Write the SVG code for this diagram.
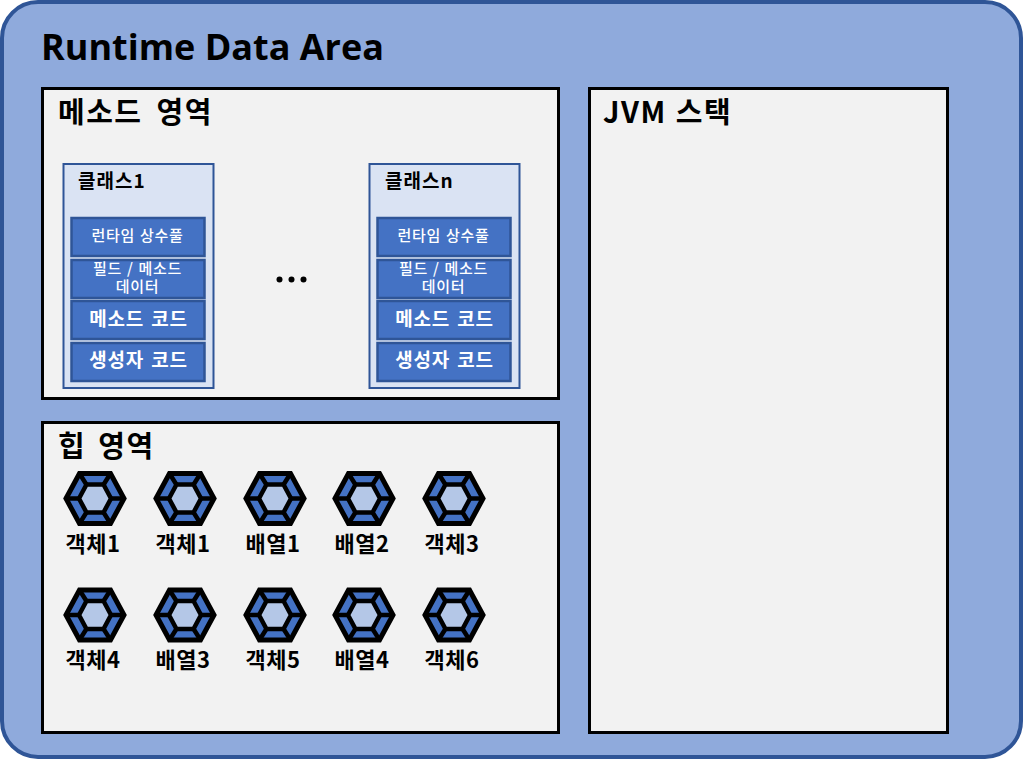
<svg xmlns="http://www.w3.org/2000/svg" width="1023" height="759" viewBox="0 0 1023 759">
<style>
text{font-family:"Noto Sans CJK KR","Noto Sans",sans-serif;font-weight:700;fill:#000}
.panel{fill:#f2f2f2;stroke:#000;stroke-width:3}
.cls{fill:#dae3f3;stroke:#2f5597;stroke-width:2}
.box{fill:#4472c4;stroke:#2f5597;stroke-width:2.500}
.w{fill:#fff;text-anchor:middle}
.s{font-size:15px;font-weight:500;letter-spacing:.7px;word-spacing:1px}
.m{font-size:19px;letter-spacing:.8px;word-spacing:2px}
.h2{font-size:29px;letter-spacing:1.500px;word-spacing:6px}
.c{font-size:19px;letter-spacing:1px}
.lab{font-size:22px;letter-spacing:.5px;text-anchor:middle}
</style>
<defs>
<g id="hex">
<path d="M-29 0L-15.500-25H15.500L29 0L15.500 25H-15.500Z" fill="#4472c4" stroke="#000" stroke-width="5" stroke-linejoin="miter"/>
<path d="M-29 0H-16M29 0H16M-15.500-25L-8-13M15.500-25L8-13M-15.500 25L-8 13M15.500 25L8 13" stroke="#000" stroke-width="4.500" fill="none"/>
<path d="M-16 0L-8.500-14H8.500L16 0L8.500 14H-8.500Z" fill="#b4c7e7" stroke="#000" stroke-width="4.500"/>
</g>
<g id="stack">
<rect class="cls" x="0" y="0" width="150" height="224"/>
<rect class="box" x="8" y="54" width="133" height="38"/>
<rect class="box" x="8" y="96" width="133" height="38"/>
<rect class="box" x="8" y="137" width="133" height="38"/>
<rect class="box" x="8" y="179" width="133" height="38"/>
<text class="w s" x="74" y="77">런타임 상수풀</text>
<text class="w s" x="74" y="110">필드 / 메소드</text>
<text class="w s" x="74" y="128">데이터</text>
<text class="w m" x="75" y="162">메소드 코드</text>
<text class="w m" x="75" y="203">생성자 코드</text>
</g>
</defs>
<g id="runtime-data-area">
<rect x="2" y="2" width="1019" height="755" rx="36" fill="#8faadc" stroke="#2f5597" stroke-width="4"/>
<text x="41" y="60" font-size="36" style="font-family:'Open Sans','Noto Sans',sans-serif;font-weight:700">Runtime Data Area</text>
</g>
<g id="method-area">
<rect class="panel" x="42.500" y="88.500" width="516" height="310"/>
<text class="h2" x="58" y="123">메소드 영역</text>
</g>
<g id="class1">
<use href="#stack" x="63.500" y="164"/>
<text class="c" x="78" y="188">클래스1</text>
</g>
<g id="ellipsis">
<circle cx="279.500" cy="279.500" r="3"/><circle cx="291.500" cy="279.500" r="3"/><circle cx="303.500" cy="279.500" r="3"/>
</g>
<g id="classn">
<use href="#stack" x="369.500" y="164"/>
<text class="c" x="385" y="188">클래스n</text>
</g>
<g id="heap-area">
<rect class="panel" x="42.500" y="422.500" width="516" height="310"/>
<text class="h2" x="58" y="457" style="word-spacing:4px">힙 영역</text>
</g>
<g id="jvm-stack">
<rect class="panel" x="589.500" y="88.500" width="358" height="644"/>
<text class="h2" x="603" y="123" style="word-spacing:1px">JVM 스택</text>
</g>
<g id="obj-1"><use href="#hex" x="95" y="498.500"/><text class="lab" x="93" y="552">객체1</text></g>
<g id="obj-2"><use href="#hex" x="185" y="498.500"/><text class="lab" x="183" y="552">객체1</text></g>
<g id="arr-1"><use href="#hex" x="275" y="498.500"/><text class="lab" x="273" y="552">배열1</text></g>
<g id="arr-2"><use href="#hex" x="364" y="498.500"/><text class="lab" x="362" y="552">배열2</text></g>
<g id="obj-3"><use href="#hex" x="454" y="498.500"/><text class="lab" x="452" y="552">객체3</text></g>
<g id="obj-4"><use href="#hex" x="95" y="615"/><text class="lab" x="93" y="668">객체4</text></g>
<g id="arr-3"><use href="#hex" x="185" y="615"/><text class="lab" x="183" y="668">배열3</text></g>
<g id="obj-5"><use href="#hex" x="275" y="615"/><text class="lab" x="273" y="668">객체5</text></g>
<g id="arr-4"><use href="#hex" x="364" y="615"/><text class="lab" x="362" y="668">배열4</text></g>
<g id="obj-6"><use href="#hex" x="454" y="615"/><text class="lab" x="452" y="668">객체6</text></g>
<g id="connectors"></g>
</svg>
